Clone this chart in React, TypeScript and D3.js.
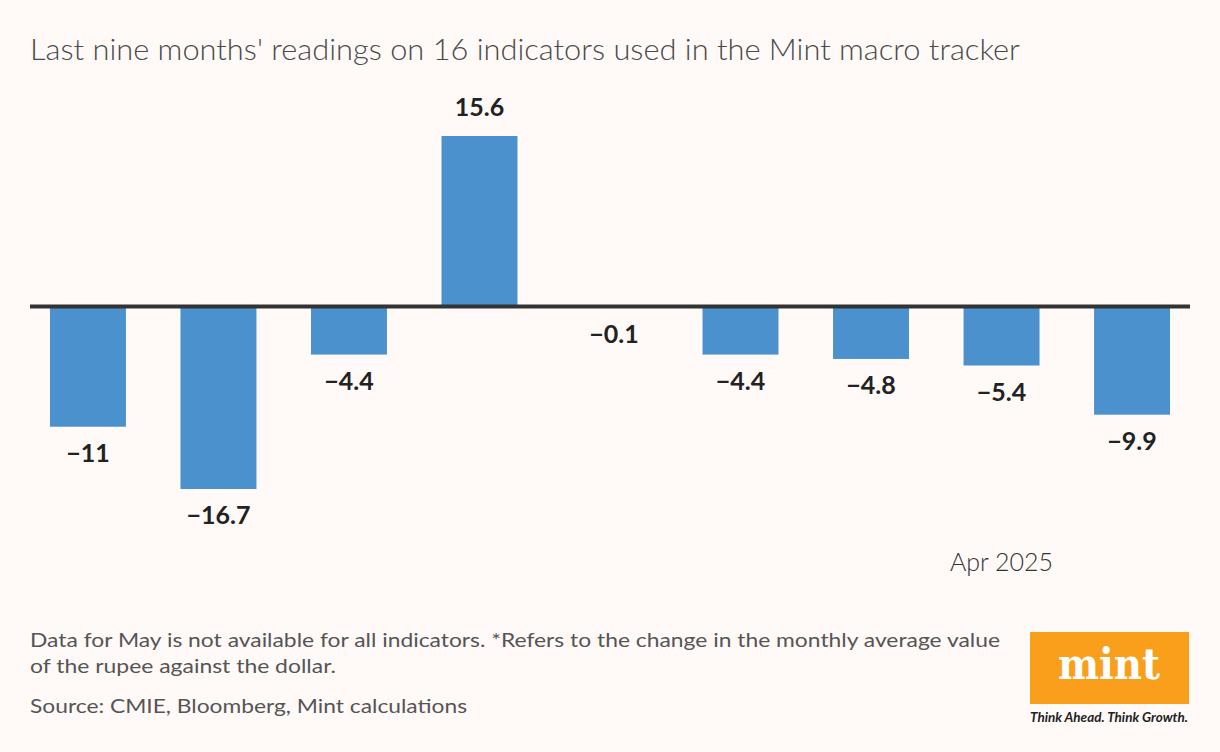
import React from 'react';
import * as d3 from 'd3';

const months = ['Sep 2024', 'Oct 2024', 'Nov 2024', 'Dec 2024', 'Jan 2025', 'Feb 2025', 'Mar 2025', 'Apr 2025', 'May 2025'];
const values = [-11, -16.7, -4.4, 15.6, -0.1, -4.4, -4.8, -5.4, -9.9];
const valueLabels = ['−11', '−16.7', '−4.4', '15.6', '−0.1', '−4.4', '−4.8', '−5.4', '−9.9'];
const shownTicks = ['Apr 2025'];

const title = "Last nine months' readings on 16 indicators used in the Mint macro tracker";
const notes = [
  'Data for May is not available for all indicators. *Refers to the change in the monthly average value',
  'of the rupee against the dollar.',
];
const source = 'Source: CMIE, Bloomberg, Mint calculations';

const W = 1220;
const H = 752;

export default function App() {
  const x = d3.scaleBand<string>()
    .domain(months)
    .range([30, 1190])
    .paddingInner(0.418)
    .paddingOuter(0.153);

  const y = d3.scaleLinear()
    .domain([-16.7, 15.6])
    .range([489, 136]);

  const y0 = y(0);
  const font = 'Lato, sans-serif';

  return (
    <svg width={W} height={H} style={{ display: 'block', position: 'absolute', left: 0, top: 0 }}>
      <rect x={0} y={0} width={W} height={H} fill="#fff9f8" />
      <text x={30} y={60} fontFamily={font} fontWeight={300} fontSize={30} fill="#4a4a4a"
        textLength={990} lengthAdjust="spacingAndGlyphs">{title}</text>

      {/* bars */}
      {values.map((v, i) => (
        <rect
          key={months[i]}
          x={x(months[i])}
          y={Math.min(y(v), y0)}
          width={x.bandwidth()}
          height={Math.abs(y(v) - y0)}
          fill="#4a91ce"
        />
      ))}

      {/* zero line */}
      <line x1={30} x2={1190} y1={y0} y2={y0} stroke="#333" strokeWidth={4} />

      {/* value labels */}
      {values.map((v, i) => (
        <text
          key={'l' + i}
          x={(x(months[i]) || 0) + x.bandwidth() / 2 + (i === 4 ? 4 : 0)}
          y={v >= 0 ? y(v) - 20 : y(v) + 35}
          textAnchor="middle"
          fontFamily={font}
          fontWeight={700}
          fontSize={25}
          fill="#222"
        >{valueLabels[i]}</text>
      ))}

      {/* month tick */}
      {shownTicks.map(m => (
        <text
          key={m}
          x={(x(m) || 0) + x.bandwidth() / 2}
          y={571}
          textAnchor="middle"
          fontFamily={font}
          fontWeight={300}
          fontSize={25}
          fill="#333"
        >{m}</text>
      ))}

      {/* footnotes */}
      <text x={30} y={647} fontFamily={font} fontSize={20} fill="#555"
        textLength={970} lengthAdjust="spacingAndGlyphs">{notes[0]}</text>
      <text x={30} y={673} fontFamily={font} fontSize={20} fill="#555"
        textLength={306} lengthAdjust="spacingAndGlyphs">{notes[1]}</text>
      <text x={30} y={713} fontFamily={font} fontSize={20} fill="#555"
        textLength={437} lengthAdjust="spacingAndGlyphs">{source}</text>

      {/* logo */}
      <rect x={1030} y={632} width={159} height={72} fill="#f99f1c" />
      <text x={1109} y={679} textAnchor="middle" fontFamily='"DejaVu Serif", serif' fontWeight={700} fontSize={42} fill="#fff"
        textLength={102} lengthAdjust="spacingAndGlyphs">mint</text>
      <text x={1030} y={722} fontFamily={font} fontStyle="italic" fontWeight={700} fontSize={13} fill="#222"
        textLength={158} lengthAdjust="spacingAndGlyphs">Think Ahead. Think Growth.</text>
    </svg>
  );
}
